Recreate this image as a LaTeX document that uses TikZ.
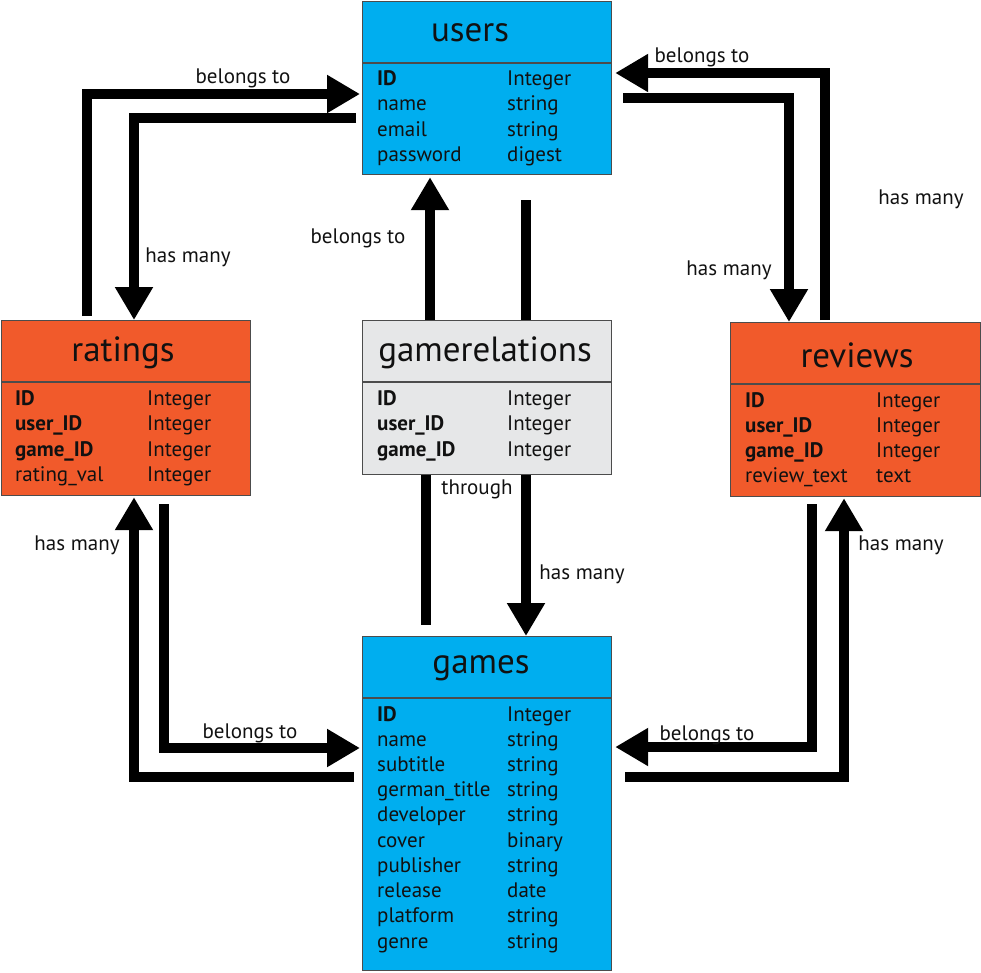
\documentclass[tikz,border=0pt]{standalone}
\usepackage{fontspec}
\setmainfont{PT Sans}
\usepackage{tikz}
\usetikzlibrary{positioning, calc, arrows.meta}

\definecolor{tblblue}{HTML}{00AEEF}
\definecolor{tblorange}{HTML}{F15A2B}
\definecolor{tblgray}{HTML}{E6E7E8}
\definecolor{ink}{HTML}{111111}

\begin{document}
\begin{tikzpicture}[
  x=1pt, y=-1pt,
  font=\fontsize{21}{24}\selectfont, text=ink,
  table/.style={rectangle, draw=black!70, line width=1.2pt, anchor=north west, minimum width=249pt, inner sep=0pt},
  title/.style={font=\fontsize{35}{40}\selectfont, inner sep=0pt},
  field/.style={anchor=west, inner sep=0pt, text height=14.5pt, text depth=0pt},
  key/.style={field, font=\fontsize{21}{24}\selectfont\bfseries},
  label/.style={inner sep=0pt, text height=14.5pt, text depth=0pt},
  rel/.style={line width=10pt, -{Triangle[length=33pt,width=36pt]}},
  link/.style={line width=10pt},
]
\useasboundingbox (0,0) rectangle (981,972);

% tables
\node[table, fill=tblblue, minimum height=173pt] (users) at (362,1) {};
\node[table, fill=tblorange, minimum height=175pt] (ratings) at (1,320) {};
\node[table, fill=tblgray, minimum height=154pt] (gamerel) at (362,320) {};
\node[table, fill=tblorange, minimum height=174pt, minimum width=250pt] (reviews) at (730,322) {};
\node[table, fill=tblblue, minimum height=334pt] (games) at (362,636) {};

\foreach \t in {users, ratings, gamerel, reviews, games}
  \draw[black!70, line width=1.2pt] ([yshift=-62pt]\t.north west) -- ([yshift=-62pt]\t.north east);

\node[title] (usersT) at (470,33) {users};
\node[title] (ratingsT) at (123,353) {ratings};
\node[title] (gamerelT) at (485,353) {gamerelations};
\node[title] (reviewsT) at (857,355) {reviews};
\node[title] (gamesT) at (481,668) {games};

% fields
\node[key] at (377,78) {ID};
\foreach \y/\a in {103/name, 129/email, 154/password}
  \node[field] at (377,\y) {\a};
\foreach \y/\b in {78/Integer, 103/string, 129/string, 154/digest}
  \node[field] at (507,\y) {\b};

\foreach \y/\a in {398/ID, 423/user\_ID, 449/game\_ID}
  \node[key] at (15,\y) {\a};
\node[field] at (15,474) {rating\_val};
\foreach \y in {398, 423, 449, 474}
  \node[field] at (147,\y) {Integer};

\foreach \y/\a in {398/ID, 423/user\_ID, 449/game\_ID} {
  \node[key] at (377,\y) {\a};
  \node[field] at (507,\y) {Integer};
}

\foreach \y/\a in {400/ID, 425/user\_ID, 450/game\_ID}
  \node[key] at (745,\y) {\a};
\node[field] at (745,475) {review\_text};
\foreach \y/\b in {400/Integer, 425/Integer, 450/Integer, 475/text}
  \node[field] at (876,\y) {\b};

\node[key] at (377,714) {ID};
\foreach \y/\a in {739/name, 764/subtitle, 789/german\_title, 814/developer,
    840/cover, 865/publisher, 890/release, 915/platform, 941/genre}
  \node[field] at (377,\y) {\a};
\foreach \y/\b in {714/Integer, 739/string, 764/string, 789/string, 814/string,
    840/binary, 865/string, 890/date, 915/string, 941/string}
  \node[field] at (507,\y) {\b};

% relations
\draw[rel] ([xshift=86pt,yshift=4pt]ratings.north west) |- ([xshift=-2pt,yshift=-93pt]users.north west);
\draw[rel] ([xshift=-6pt,yshift=-117pt]users.north west) -| ([xshift=133pt]ratings.north west);
\draw[rel] ([xshift=68pt]gamerel.north west) -- ([xshift=68pt,yshift=-2pt]users.south west);
\draw[link] ([xshift=164pt,yshift=-25pt]users.south west) -- ([xshift=164pt]gamerel.north west);
\draw[link] ([xshift=64pt]gamerel.south west) -- ([xshift=64pt,yshift=11pt]games.north west);
\draw[rel] ([xshift=164pt]gamerel.south west) -- ([xshift=164pt]games.north west);
\draw[rel] ([xshift=95pt,yshift=2pt]reviews.north west) |- ([xshift=3pt,yshift=-72pt]users.north east);
\draw[rel] ([xshift=11pt,yshift=-97pt]users.north east) -| ([xshift=59pt]reviews.north west);
\draw[rel] ([xshift=-8pt,yshift=-141pt]games.north west) -| ([xshift=133pt,yshift=-1pt]ratings.south west);
\draw[rel] ([xshift=163pt,yshift=-8pt]ratings.south west) |- ([xshift=-2pt,yshift=-112pt]games.north west);
\draw[rel] ([xshift=82pt,yshift=-7pt]reviews.south west) |- ([xshift=3pt,yshift=-111pt]games.north east);
\draw[rel] ([xshift=13pt,yshift=-141pt]games.north east) -| ([xshift=114pt,yshift=-1pt]reviews.south west);

% labels
\node[label] (lblA) at (243,76) {belongs to};
\node[label] (lblB) at (188,255) {has many};
\node[label] (lblC) at (358,236) {belongs to};
\node[label] (lblE) at (477,487) {through};
\node[label] (lblF) at (582,572) {has many};
\node[label] (lblG) at (702,55) {belongs to};
\node[label] (lblH) at (729,268) {has many};
\node[label] (lblG2) at (921,197) {has many};
\node[label] (lblI) at (77,543) {has many};
\node[label] (lblJ) at (250,731) {belongs to};
\node[label] (lblK) at (707,733) {belongs to};
\node[label] (lblL) at (901,543) {has many};
\end{tikzpicture}
\end{document}
